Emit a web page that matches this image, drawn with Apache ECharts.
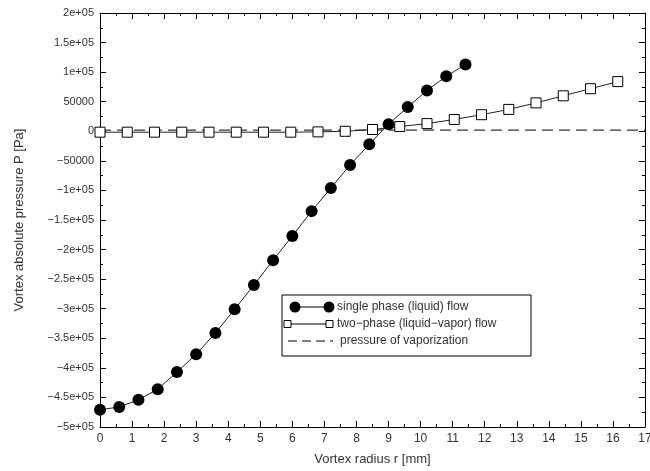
<!DOCTYPE html>
<html>
<head>
<meta charset="utf-8">
<script src="https://cdn.jsdelivr.net/npm/echarts@6/dist/echarts.min.js"></script>
<style>
  html, body { margin: 0; padding: 0; background: #fff; }
  #chart { width: 650px; height: 471px; }
</style>
</head>
<body>
<div id="chart"></div>
<script>
// single phase (liquid) flow
const singleR = [0, 0.6, 1.2, 1.8, 2.4, 3.0, 3.6, 4.2, 4.8, 5.4, 6.0, 6.6, 7.2, 7.8, 8.4, 9.0, 9.6, 10.2, 10.8, 11.4]
const singleP = [-471000, -466000, -454000, -436000, -407000, -377000, -341000, -301000, -260000, -218000,
  -177000, -135000, -96000, -57000, -22000, 12000, 41000, 69000, 93000, 113000]

// two-phase (liquid-vapor) flow
const twoR = [0, 0.85, 1.7, 2.55, 3.4, 4.25, 5.1, 5.95, 6.8, 7.65, 8.5, 9.35, 10.2, 11.05, 11.9, 12.75, 13.6, 14.45, 15.3, 16.15]
const twoP = [-1500, -1500, -1500, -1500, -1500, -1500, -1500, -1500, -1000, 0,
  3000, 8000, 13000, 20000, 28000, 37000, 48000, 60000, 72000, 84000]

// pressure of vaporization
const vaporR = [0, 17]
const vaporP = [2000, 2000]

const legendNames = [
  "single phase (liquid) flow",
  "two\u2212phase (liquid\u2212vapor) flow",
  "pressure of vaporization"
]

const FONT = "'Liberation Sans', Arial, sans-serif"
const TEXT = "#333"

const chart = echarts.init(document.getElementById("chart"))

const zip = (xs, ys) => xs.map((x, i) => [x, ys[i]])

// 1e+05 style labels like the original plot
const fmtY = (v) => {
  if (v === 0) return "0"
  const s = v < 0 ? "\u2212" : ""
  const a = Math.abs(v)
  if (a < 100000) return s + a
  const m = a / 100000
  return s + m + "e+05"
}

const axisCommon = {
  type: "value",
  axisLine: { show: true, onZero: false, lineStyle: { color: "#000", width: 1 } },
  axisTick: { show: true, inside: true, length: 6, lineStyle: { color: "#000" } },
  minorTick: { show: true, splitNumber: 2, length: 3, lineStyle: { color: "#000" } },
  splitLine: { show: false }
}

// legend drawn by hand: marker - line - marker
const lx = 282, ly = 295
const legendGraphic = [
  {
    type: "rect",
    shape: { x: lx, y: ly, width: 249, height: 61 },
    style: { fill: "#fff", stroke: "#000", lineWidth: 1 },
    z: 100
  },
  { type: "line", shape: { x1: 295, y1: 307, x2: 329, y2: 307 }, style: { stroke: "#000", lineWidth: 1 }, z: 101 },
  { type: "circle", shape: { cx: 295, cy: 307, r: 5.5 }, style: { fill: "#000" }, z: 102 },
  { type: "circle", shape: { cx: 329, cy: 307, r: 5.5 }, style: { fill: "#000" }, z: 102 },
  { type: "line", shape: { x1: 287, y1: 324, x2: 329, y2: 324 }, style: { stroke: "#000", lineWidth: 1 }, z: 101 },
  { type: "rect", shape: { x: 284, y: 320.5, width: 7, height: 7 }, style: { fill: "#fff", stroke: "#000", lineWidth: 1 }, z: 102 },
  { type: "rect", shape: { x: 326, y: 320.5, width: 7, height: 7 }, style: { fill: "#fff", stroke: "#000", lineWidth: 1 }, z: 102 },
  { type: "line", shape: { x1: 288, y1: 341, x2: 333, y2: 341 }, style: { stroke: "#000", lineWidth: 1, lineDash: [9, 5] }, z: 101 },
  { type: "text", x: 337, y: 307, style: { text: legendNames[0], fill: TEXT, font: "12px " + FONT, textVerticalAlign: "middle" }, z: 102 },
  { type: "text", x: 337, y: 324, style: { text: legendNames[1], fill: TEXT, font: "12px " + FONT, textVerticalAlign: "middle" }, z: 102 },
  { type: "text", x: 340, y: 341, style: { text: legendNames[2], fill: TEXT, font: "12px " + FONT, textVerticalAlign: "middle" }, z: 102 }
]

const option = {
  animation: false,
  backgroundColor: "#fff",
  textStyle: { fontFamily: FONT },
  grid: { left: 100, right: 5, top: 13, bottom: 44, outerBoundsMode: "none", containLabel: false },
  xAxis: [
    {
      ...axisCommon,
      position: "bottom",
      min: 0,
      max: 17,
      interval: 1,
      name: "Vortex radius r [mm]",
      nameLocation: "middle",
      nameGap: 26,
      nameTextStyle: { color: TEXT, fontSize: 13, fontFamily: FONT },
      axisLabel: { color: TEXT, fontSize: 12, margin: 6, showMaxLabel: true, fontFamily: FONT }
    },
    {
      ...axisCommon,
      position: "top",
      min: 0,
      max: 17,
      interval: 1,
      axisLabel: { show: false }
    }
  ],
  yAxis: [
    {
      ...axisCommon,
      position: "left",
      min: -500000,
      max: 200000,
      interval: 50000,
      name: "Vortex absolute pressure P [Pa]",
      nameLocation: "middle",
      nameGap: 74,
      nameTextStyle: { color: TEXT, fontSize: 13, fontFamily: FONT },
      axisLabel: { color: TEXT, fontSize: 11, margin: 6, formatter: fmtY, fontFamily: FONT }
    },
    {
      ...axisCommon,
      position: "right",
      min: -500000,
      max: 200000,
      interval: 50000,
      axisLabel: { show: false }
    }
  ],
  series: [
    {
      name: legendNames[2],
      type: "line",
      data: zip(vaporR, vaporP),
      showSymbol: false,
      symbol: "none",
      lineStyle: { color: "#000", width: 1, type: [11, 6] },
      z: 1
    },
    {
      name: legendNames[1],
      type: "line",
      data: zip(twoR, twoP),
      symbol: "rect",
      symbolSize: 10,
      itemStyle: { color: "#fff", borderColor: "#000", borderWidth: 1 },
      lineStyle: { color: "#222", width: 1 },
      z: 2
    },
    {
      name: legendNames[0],
      type: "line",
      data: zip(singleR, singleP),
      symbol: "circle",
      symbolSize: 12,
      itemStyle: { color: "#000", borderWidth: 0 },
      lineStyle: { color: "#222", width: 1 },
      z: 3
    }
  ],
  graphic: legendGraphic
}

chart.setOption(option)
</script>
</body>
</html>
